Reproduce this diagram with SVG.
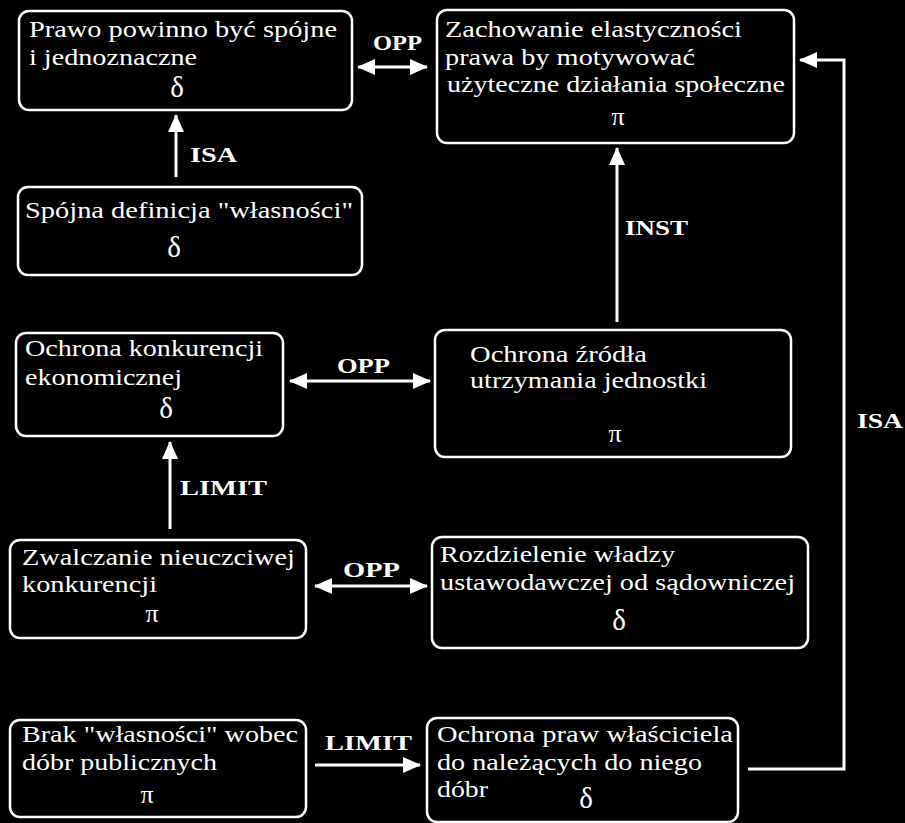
<svg xmlns="http://www.w3.org/2000/svg" width="905" height="823" viewBox="0 0 905 823">
<style>
.bg{fill:#000}
.box{fill:#000;stroke:#fff;stroke-width:2.5}
text{font-family:"Liberation Serif","Times New Roman","DejaVu Serif",serif;fill:#fff}
.t{font-size:23px}
.g{font-size:29px;text-anchor:middle}
.p{font-size:26px;text-anchor:middle}
.l{font-size:22px;font-weight:bold}
.c{fill:none;stroke:#fff;stroke-width:3}
</style>
<defs>
<marker id="ah" viewBox="0 0 18 16" refX="17" refY="8" markerWidth="18" markerHeight="16" markerUnits="userSpaceOnUse" orient="auto-start-reverse">
<path d="M0,0 L18,8 L0,16 z" fill="#fff"/>
</marker>
</defs>
<rect class="bg" x="0" y="0" width="905" height="823"/>

<g id="n1">
<rect class="box" x="19" y="11" width="333" height="99" rx="10"/>
<text class="t" x="29" y="37" textLength="308" lengthAdjust="spacingAndGlyphs">Prawo powinno być spójne</text>
<text class="t" x="29" y="65" textLength="168" lengthAdjust="spacingAndGlyphs">i jednoznaczne</text>
<text class="g" x="177" y="97">δ</text>
</g>

<g id="n2">
<rect class="box" x="437" y="10" width="357" height="133" rx="10"/>
<text class="t" x="445" y="37" textLength="297" lengthAdjust="spacingAndGlyphs">Zachowanie elastyczności</text>
<text class="t" x="445" y="65" textLength="250" lengthAdjust="spacingAndGlyphs">prawa by motywować</text>
<text class="t" x="447" y="92" textLength="338" lengthAdjust="spacingAndGlyphs">użyteczne działania społeczne</text>
<text class="p" x="618" y="125">π</text>
</g>

<g id="n3">
<rect class="box" x="18" y="187" width="344" height="88" rx="10"/>
<text class="t" x="25" y="218" textLength="328" lengthAdjust="spacingAndGlyphs">Spójna definicja "własności"</text>
<text class="g" x="174" y="257">δ</text>
</g>

<g id="n4">
<rect class="box" x="16" y="333" width="267" height="103" rx="10"/>
<text class="t" x="25" y="356" textLength="238" lengthAdjust="spacingAndGlyphs">Ochrona konkurencji</text>
<text class="t" x="25" y="385" textLength="157" lengthAdjust="spacingAndGlyphs">ekonomicznej</text>
<text class="g" x="166" y="418">δ</text>
</g>

<g id="n5">
<rect class="box" x="435" y="330" width="356" height="127" rx="10"/>
<text class="t" x="470" y="362" textLength="177" lengthAdjust="spacingAndGlyphs">Ochrona źródła</text>
<text class="t" x="470" y="388" textLength="237" lengthAdjust="spacingAndGlyphs">utrzymania jednostki</text>
<text class="p" x="615" y="442">π</text>
</g>

<g id="n6">
<rect class="box" x="10" y="540" width="296" height="98" rx="10"/>
<text class="t" x="22" y="565" textLength="273" lengthAdjust="spacingAndGlyphs">Zwalczanie nieuczciwej</text>
<text class="t" x="22" y="592" textLength="135" lengthAdjust="spacingAndGlyphs">konkurencji</text>
<text class="p" x="152" y="622">π</text>
</g>

<g id="n7">
<rect class="box" x="432" y="537" width="376" height="111" rx="10"/>
<text class="t" x="440" y="562" textLength="235" lengthAdjust="spacingAndGlyphs">Rozdzielenie władzy</text>
<text class="t" x="440" y="590" textLength="355" lengthAdjust="spacingAndGlyphs">ustawodawczej od sądowniczej</text>
<text class="g" x="619" y="630">δ</text>
</g>

<g id="n8">
<rect class="box" x="10" y="720" width="296" height="97" rx="10"/>
<text class="t" x="22" y="742" textLength="276" lengthAdjust="spacingAndGlyphs">Brak "własności" wobec</text>
<text class="t" x="22" y="770" textLength="195" lengthAdjust="spacingAndGlyphs">dóbr publicznych</text>
<text class="p" x="147" y="803">π</text>
</g>

<g id="n9">
<rect class="box" x="427" y="718" width="311" height="104" rx="10"/>
<text class="t" x="437" y="742" textLength="296" lengthAdjust="spacingAndGlyphs">Ochrona praw właściciela</text>
<text class="t" x="437" y="770" textLength="265" lengthAdjust="spacingAndGlyphs">do należących do niego</text>
<text class="t" x="437" y="797" textLength="51" lengthAdjust="spacingAndGlyphs">dóbr</text>
<text class="g" x="586" y="808">δ</text>
</g>

<g id="connectors">
<path class="c" d="M176,177 L176,115" marker-end="url(#ah)"/>
<path class="c" d="M358,67 L427,67" marker-start="url(#ah)" marker-end="url(#ah)"/>
<path class="c" d="M617,322 L617,148" marker-end="url(#ah)"/>
<path class="c" d="M290,381 L430,381" marker-start="url(#ah)" marker-end="url(#ah)"/>
<path class="c" d="M170,529 L170,442" marker-end="url(#ah)"/>
<path class="c" d="M315,586 L427,586" marker-start="url(#ah)" marker-end="url(#ah)"/>
<path class="c" d="M315,765 L420,765" marker-end="url(#ah)"/>
<path class="c" d="M748,769 L844,769 L844,60 L800,60" marker-end="url(#ah)"/>
<text class="l" x="190" y="162" textLength="47" lengthAdjust="spacingAndGlyphs">ISA</text>
<text class="l" x="373" y="50" textLength="49" lengthAdjust="spacingAndGlyphs">OPP</text>
<text class="l" x="625" y="235" textLength="63" lengthAdjust="spacingAndGlyphs">INST</text>
<text class="l" x="337" y="373" textLength="53" lengthAdjust="spacingAndGlyphs">OPP</text>
<text class="l" x="180" y="495" textLength="87" lengthAdjust="spacingAndGlyphs">LIMIT</text>
<text class="l" x="343" y="577" textLength="57" lengthAdjust="spacingAndGlyphs">OPP</text>
<text class="l" x="325" y="750" textLength="87" lengthAdjust="spacingAndGlyphs">LIMIT</text>
<text class="l" x="857" y="428" textLength="46" lengthAdjust="spacingAndGlyphs">ISA</text>
</g>
</svg>
